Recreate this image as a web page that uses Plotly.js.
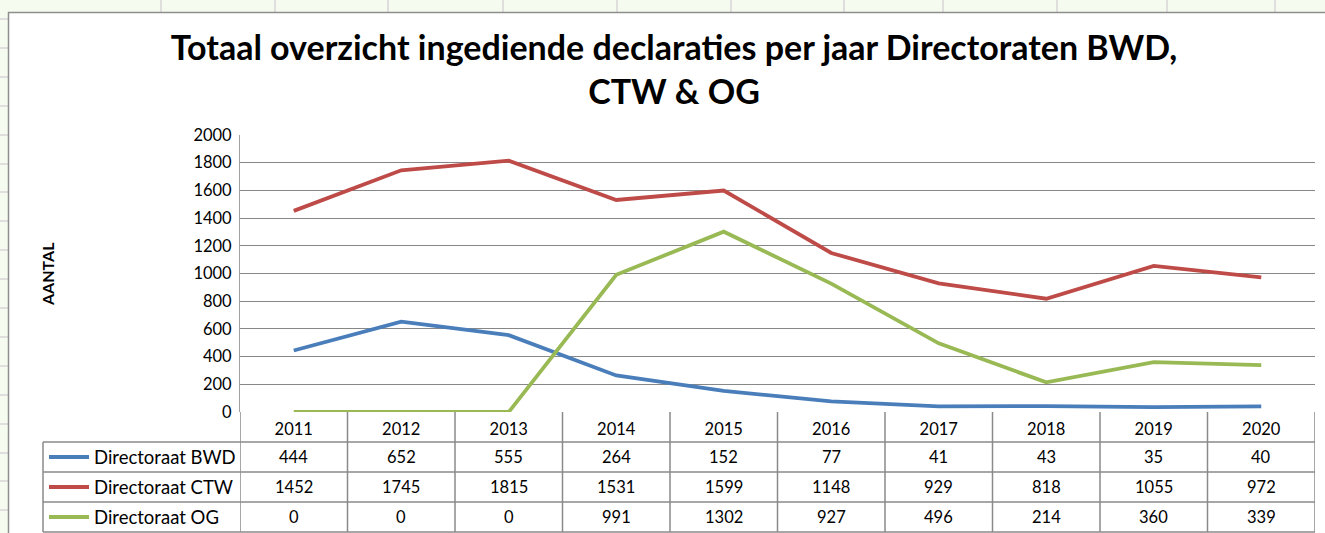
<!DOCTYPE html>
<html>
<head>
<meta charset="utf-8">
<script src="https://cdn.plot.ly/plotly-3.0.1.min.js"></script>
<style>html,body{margin:0;padding:0;background:#f5fbee;}#chart{width:1325px;height:533px;}</style>
</head>
<body>
<div id="chart"></div>
<script>
// ---- data ----
const years = ['2011','2012','2013','2014','2015','2016','2017','2018','2019','2020'];
const seriesNames = ['Directoraat BWD','Directoraat CTW','Directoraat OG'];
const bwd = [444, 652, 555, 264, 152, 77, 41, 43, 35, 40];
const ctw = [1452, 1745, 1815, 1531, 1599, 1148, 929, 818, 1055, 972];
const og  = [0, 0, 0, 991, 1302, 927, 496, 214, 360, 339];
const yTicks = [0,200,400,600,800,1000,1200,1400,1600,1800,2000];

const seriesValues = [bwd, ctw, og];
const seriesColors = ['#4a7ebb', '#be4b48', '#98b954'];

// ---- geometry (pixels) ----
const W = 1325, H = 533;
const px = x => x / W;
const py = y => 1 - y / H;
const PLOT_L = 240, PLOT_R = 1315, PLOT_T = 135, PLOT_B = 412;
const TABLE_L = 43;
const ROW_LINES = [442, 472, 502, 532];
const FONT = 'Lato, "Open Sans", sans-serif';
const GRID = '#878787';
const TBL = '#8a8a8a';

const traces = seriesValues.map((vals, k) => ({
  type: 'scatter', mode: 'lines', x: years, y: vals, name: seriesNames[k],
  line: {color: seriesColors[k], width: 3.8}, showlegend: false, hoverinfo: 'skip'
}));

const shapes = [];
// spreadsheet background gridlines
const sheetCols = [161,275,388,503,617,731,844,943,1057,1167,1275];
sheetCols.forEach(x => shapes.push({type:'line', xref:'paper', yref:'paper', x0:px(x), x1:px(x), y0:py(0), y1:py(12), line:{color:'#d6d6d6', width:1.5}, layer:'below'}));
const sheetRows = [19,48,77,106,135,164,192,221,250,279,308,337,366,395,424,453,481,510];
sheetRows.forEach(y => shapes.push({type:'line', xref:'paper', yref:'paper', x0:0, x1:px(8), y0:py(y), y1:py(y), line:{color:'#d6d6d6', width:1.5}, layer:'below'}));
// chart frame
shapes.push({type:'rect', xref:'paper', yref:'paper', x0:px(8.5), x1:px(1340), y0:py(12.5), y1:py(545), fillcolor:'#ffffff', line:{color:'#8e8e8e', width:1.5}, layer:'below'});

// data table lines
ROW_LINES.forEach(y => shapes.push({type:'line', xref:'paper', yref:'paper', x0:px(TABLE_L), x1:px(PLOT_R), y0:py(y), y1:py(y), line:{color:TBL, width:1.5}, layer:'above'}));
shapes.push({type:'line', xref:'paper', yref:'paper', x0:px(TABLE_L), x1:px(TABLE_L), y0:py(442), y1:py(532), line:{color:TBL, width:1.5}, layer:'above'});
for (let i = -1; i < years.length; i++) {
  shapes.push({type:'line', xref:'x', yref:'paper', x0:i+0.5, x1:i+0.5, y0:py(PLOT_B), y1:py(532), line:{color:TBL, width:1.5}, layer:'above'});
}
// legend keys inside the table
seriesNames.forEach((n, k) => {
  const yc = (ROW_LINES[k] + ROW_LINES[k+1]) / 2;
  shapes.push({type:'line', xref:'paper', yref:'paper', x0:px(49), x1:px(89), y0:py(yc), y1:py(yc), line:{color:seriesColors[k], width:4}, layer:'above'});
});

const annotations = [];
// y axis title
annotations.push({text:'AANTAL', xref:'paper', yref:'paper', x:px(47), y:py(274), xanchor:'center', yanchor:'middle', showarrow:false, textangle:-90, font:{family:FONT, size:16, color:'#000', weight:'bold'}});
// table row headers and values
seriesNames.forEach((n, k) => {
  const yc = (ROW_LINES[k] + ROW_LINES[k+1]) / 2;
  annotations.push({text:n, xref:'paper', yref:'paper', x:px(92), y:py(yc), xanchor:'left', yanchor:'middle', showarrow:false, font:{family:FONT, size:18.5, color:'#000'}});
  seriesValues[k].forEach((v, i) => {
    annotations.push({text:String(v), xref:'x', yref:'paper', x:i, y:py(yc), xanchor:'center', yanchor:'middle', showarrow:false, font:{family:FONT, size:16.5, color:'#000'}});
  });
});

const layout = {
  width: W, height: H,
  margin: {l:0, r:0, t:0, b:0},
  paper_bgcolor: '#f5fbee',
  plot_bgcolor: 'rgba(0,0,0,0)',
  title: {
    text: 'Totaal overzicht ingediende declaraties per jaar Directoraten BWD,<br>CTW & OG',
    font: {family: FONT, size: 34, color: '#000', weight: 'bold'},
    x: px(674), xanchor: 'center', xref: 'container',
    y: py(60), yanchor: 'middle', yref: 'container'
  },
  xaxis: {
    domain: [px(PLOT_L), px(PLOT_R)], type: 'category', range: [-0.5, years.length - 0.5],
    showgrid: false, zeroline: false, showline: false, ticks: '',
    tickfont: {family: FONT, size: 16.5, color: '#000'}, ticklabelstandoff: 5, fixedrange: true
  },
  yaxis: {
    domain: [py(PLOT_B), py(PLOT_T)], range: [0, 2000], tickvals: yTicks,
    showgrid: true, gridcolor: GRID, gridwidth: 1, zeroline: false,
    showline: true, linecolor: '#a0a0a0', linewidth: 1, ticks: '',
    tickfont: {family: FONT, size: 16.5, color: '#000'}, ticklabelstandoff: 4, fixedrange: true
  },
  shapes: shapes,
  annotations: annotations,
  showlegend: false
};

Plotly.newPlot('chart', traces, layout, {displayModeBar: false, staticPlot: true});
</script>
</body>
</html>
